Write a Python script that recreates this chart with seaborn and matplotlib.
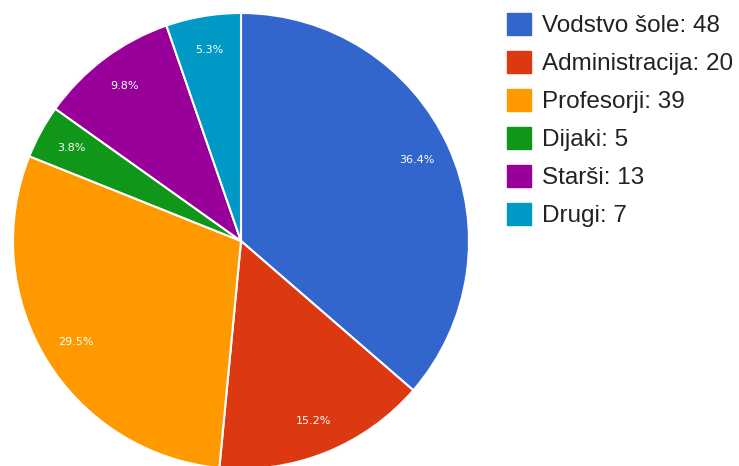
import matplotlib
matplotlib.use("Agg")
import matplotlib.pyplot as plt
from matplotlib.patches import Patch
import seaborn as sns

# Data
labels = ["Vodstvo šole", "Administracija", "Profesorji", "Dijaki", "Starši", "Drugi"]
values = [48, 20, 39, 5, 13, 7]
colors = ["#3366cc", "#dc3912", "#ff9900", "#109618", "#990099", "#0099c6"]

sns.set_theme(style="white")
plt.rcParams["font.family"] = ["Liberation Sans", "DejaVu Sans"]

W, H = 739, 466
fig = plt.figure(figsize=(W / 100, H / 100), dpi=100)

# pie centre (241, 241) px, radius 228 px
cx, cy, r = 241, 241, 228
ax = fig.add_axes([(cx - r) / W, (H - cy - r) / H, 2 * r / W, 2 * r / H])

wedges, texts, autotexts = ax.pie(
    values,
    colors=sns.color_palette(colors),
    startangle=90,
    counterclock=False,
    autopct="%.1f%%",
    pctdistance=0.85,
    wedgeprops=dict(edgecolor="white", linewidth=1.5),
    textprops=dict(color="white", fontsize=8, family="DejaVu Sans"),
)
ax.set_xlim(-1, 1)
ax.set_ylim(-1, 1)
ax.set_aspect("equal")

# Legend
handles = [Patch(facecolor=c, edgecolor=c) for c in colors]
legend_labels = [f"{l}: {v}" for l, v in zip(labels, values)]
fig.legend(
    handles,
    legend_labels,
    loc="upper left",
    bbox_to_anchor=(507 / W, 1 - 13 / H),
    frameon=False,
    fontsize=17.5,
    handlelength=1.0,
    handleheight=1.0,
    handletextpad=0.45,
    labelspacing=0.57,
    borderpad=0,
    borderaxespad=0,
    labelcolor="#222222",
)

fig.savefig("out.png", dpi=100)
